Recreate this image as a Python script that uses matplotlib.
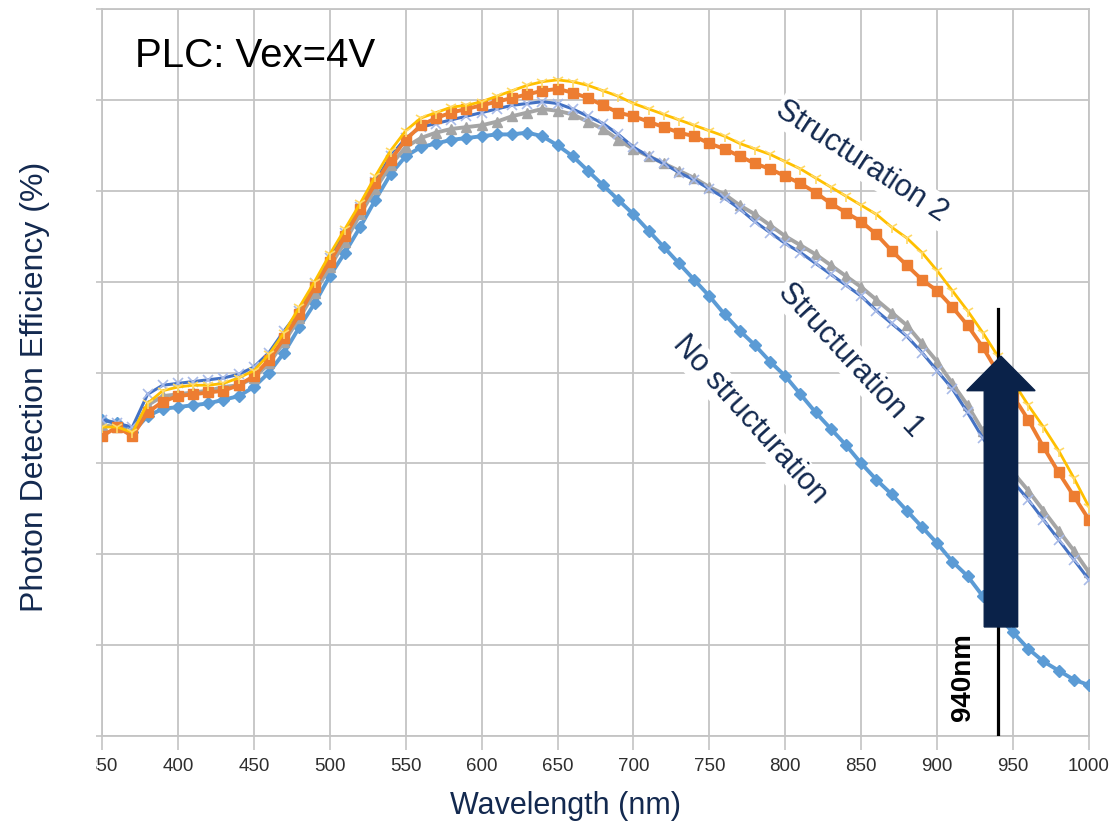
import numpy as np
import matplotlib
matplotlib.use("Agg")
import matplotlib.pyplot as plt
from matplotlib.patches import FancyArrow, Rectangle

# Wavelength grid (nm) and PDE curves (%)
wavelength = np.arange(350, 1001, 10)

no_structuration = [
    17.4, 17.2, 16.7, 17.6, 18.0, 18.1, 18.2, 18.3, 18.5, 18.7,
    19.2, 20.0, 21.1, 22.5, 23.8, 25.3, 26.6, 28.0, 29.5, 30.9,
    31.9, 32.4, 32.6, 32.8, 32.9, 33.0, 33.1, 33.1, 33.2, 33.0,
    32.5, 31.9, 31.1, 30.3, 29.5, 28.7, 27.8, 26.9, 26.0, 25.1,
    24.2, 23.2, 22.3, 21.5, 20.6, 19.8, 18.8, 17.8, 16.9, 16.0,
    15.0, 14.1, 13.3, 12.4, 11.5, 10.6, 9.6, 8.8, 7.7, 6.6,
    5.7, 4.8, 4.1, 3.6, 3.1, 2.8,
]

structuration1_a = [
    17.1, 17.0, 16.7, 18.2, 18.7, 18.8, 18.9, 19.0, 19.2, 19.3,
    19.7, 20.5, 21.7, 23.0, 24.4, 25.8, 27.2, 28.7, 30.1, 31.4,
    32.4, 32.9, 33.2, 33.4, 33.5, 33.6, 33.8, 34.1, 34.3, 34.5,
    34.4, 34.2, 33.8, 33.4, 32.8, 32.3, 31.9, 31.5, 31.1, 30.7,
    30.2, 29.8, 29.2, 28.7, 28.1, 27.5, 27.0, 26.5, 25.9, 25.3,
    24.7, 24.0, 23.3, 22.6, 21.6, 20.6, 19.4, 18.2, 16.8, 15.5,
    14.5, 13.5, 12.4, 11.3, 10.2, 9.0,
]

structuration1_b = [
    17.4, 17.2, 17.0, 18.8, 19.3, 19.4, 19.5, 19.6, 19.7, 19.9,
    20.3, 21.1, 22.3, 23.4, 24.9, 26.3, 27.7, 29.1, 30.5, 31.9,
    32.9, 33.5, 33.7, 33.9, 34.1, 34.3, 34.5, 34.7, 34.8, 34.9,
    34.8, 34.5, 34.1, 33.7, 33.1, 32.4, 31.9, 31.5, 31.0, 30.6,
    30.1, 29.6, 29.0, 28.3, 27.7, 27.1, 26.6, 26.0, 25.4, 24.8,
    24.2, 23.4, 22.7, 22.0, 21.1, 20.1, 19.1, 17.8, 16.4, 15.2,
    14.0, 13.0, 11.9, 10.8, 9.7, 8.6,
]

structuration2_a = [
    16.5, 17.0, 16.5, 17.8, 18.4, 18.7, 18.8, 18.9, 19.0, 19.3,
    19.8, 20.7, 21.9, 23.2, 24.7, 26.1, 27.5, 29.0, 30.4, 31.7,
    32.8, 33.6, 34.0, 34.3, 34.5, 34.7, 34.9, 35.1, 35.3, 35.5,
    35.6, 35.4, 35.1, 34.7, 34.3, 34.1, 33.8, 33.5, 33.2, 33.0,
    32.6, 32.3, 31.9, 31.5, 31.2, 30.8, 30.4, 29.9, 29.3, 28.8,
    28.3, 27.6, 26.7, 25.9, 25.1, 24.5, 23.6, 22.6, 21.4, 20.0,
    18.7, 17.4, 15.9, 14.5, 13.2, 11.9,
]

structuration2_b = [
    17.0, 17.0, 16.7, 18.3, 19.0, 19.2, 19.3, 19.3, 19.4, 19.7,
    20.1, 21.0, 22.2, 23.6, 25.0, 26.5, 27.9, 29.3, 30.8, 32.2,
    33.3, 34.0, 34.3, 34.6, 34.7, 34.9, 35.2, 35.5, 35.8, 36.0,
    36.1, 36.0, 35.8, 35.5, 35.2, 34.8, 34.5, 34.2, 33.9, 33.6,
    33.3, 33.0, 32.6, 32.3, 32.0, 31.6, 31.2, 30.7, 30.2, 29.7,
    29.2, 28.7, 28.0, 27.4, 26.6, 25.6, 24.5, 23.4, 22.2, 20.9,
    19.5, 18.2, 17.0, 15.7, 14.2, 12.6,
]

x_ticks = [350, 400, 450, 500, 550, 600, 650, 700, 750, 800, 850, 900, 950, 1000]
x_tick_labels = [str(t) for t in x_ticks]

target_wavelength = 940
target_label = "940nm"
arrow_base = 6.0
target_line_top = 23.5

NAVY = "#13294f"
GRID = "#c4c4c4"
SANS = ["Liberation Sans", "DejaVu Sans"]

fig = plt.figure(figsize=(11.1, 8.32), dpi=100)
fig.patch.set_facecolor("white")
ax = fig.add_axes([102 / 1110, 1 - 736 / 832, (1089 - 102) / 1110, (736 - 9) / 832])
ax.set_xlim(350, 1000)
ax.set_ylim(0, 40)

ax.set_xticks(x_ticks)
ax.set_xticklabels(x_tick_labels, family=SANS, fontsize=13.5, color="#2e2e2e")
ax.set_yticks(np.arange(0, 41, 5))
ax.set_yticklabels([])
ax.tick_params(axis="x", direction="out", length=10, width=1.2, color=GRID, pad=6)
ax.tick_params(axis="y", direction="out", length=4, width=1.2, color=GRID)
ax.grid(True, color=GRID, linewidth=1.3)
ax.set_axisbelow(True)
for side in ax.spines.values():
    side.set_color(GRID)
    side.set_linewidth(1.3)

# Curves
ax.plot(wavelength, no_structuration, color="#5b9bd5", lw=2.8,
        marker="D", ms=6, mfc="#5b9bd5", mec="#5b9bd5", zorder=3)
ax.plot(wavelength, structuration1_a, color="#a5a5a5", lw=2.8,
        marker="^", ms=7, mfc="#a5a5a5", mec="#a5a5a5", zorder=4)
ax.plot(wavelength, structuration1_b, color="#4472c4", lw=2.2,
        marker="x", ms=6.5, mew=1.2, mec="#a9bbe8", zorder=5)
ax.plot(wavelength, structuration2_a, color="#ed7d31", lw=2.8,
        marker="s", ms=7, mfc="#ed7d31", mec="#ed7d31", zorder=6)
ax.plot(wavelength, structuration2_b, color="#ffc000", lw=2.0,
        marker="1", ms=8.5, mew=1.2, mec="#ffd966", zorder=7)

# Curve labels
label_style = dict(family=SANS, fontsize=22, color=NAVY, ha="center", va="center",
                   zorder=8, bbox=dict(facecolor="white", edgecolor="none", pad=1.5))
ax.text(850.5, 31.6, "Structuration 2", rotation=-33, **label_style)
ax.text(843, 20.7, "Structuration 1", rotation=-47, **label_style)
ax.text(776.5, 17.4, "No structuration", rotation=-48, **label_style)

# 940 nm marker and improvement arrow
ax.plot([target_wavelength, target_wavelength], [0, target_line_top],
        color="black", lw=2.3, zorder=9)
tip = structuration2_b[list(wavelength).index(target_wavelength)]
ax.add_patch(FancyArrow(target_wavelength + 2, arrow_base, 0, tip - arrow_base,
                        width=22, head_width=45, head_length=1.9,
                        length_includes_head=True, color="#0a2249", zorder=10))
ax.text(917, 3.25, target_label, rotation=90, family=SANS, fontsize=20,
        fontweight="bold", color="black", ha="center", va="center", zorder=11)

ax.text(371.5, 37.4, "PLC: Vex=4V", family=SANS, fontsize=29, color="black",
        ha="left", va="center", zorder=8)

fig.text(35 / 1110, 1 - 387 / 832, "Photon Detection Efficiency (%)", rotation=90,
         family=SANS, fontsize=23, color=NAVY, ha="center", va="center")
fig.text(565 / 1110, 1 - 806 / 832, "Wavelength (nm)", family=SANS, fontsize=22,
         color=NAVY, ha="center", va="center")

# Left margin panel trimming the first tick label
fig.patches.append(Rectangle((0, 1 - 790 / 832), 96 / 1110, 45 / 832,
                             transform=fig.transFigure, facecolor="white",
                             edgecolor="none", zorder=20))

fig.savefig("out.png", dpi=100, facecolor="white")
